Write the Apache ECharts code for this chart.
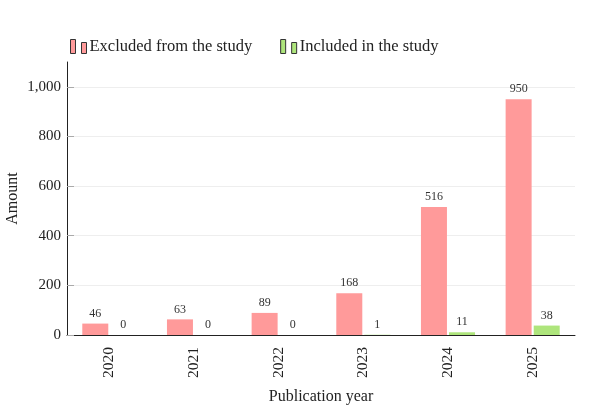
<!DOCTYPE html>
<html><head><meta charset="utf-8">
<script src="https://cdn.jsdelivr.net/npm/echarts@6/dist/echarts.min.js"></script>
<style>html,body{margin:0;padding:0;background:#fff}#c{width:600px;height:410px}</style>
</head><body><div id="c"></div>
<script>
var years = ['2020','2021','2022','2023','2024','2025'];
var excluded = [46, 63, 89, 168, 516, 950];
var included = [0, 0, 0, 1, 11, 38];
var seriesNames = ['Excluded from the study', 'Included in the study'];

var FONT = 'Liberation Serif';
var icon = 'path://M0,0H5V14H0Z M11,3H16V14H11Z';
var chart = echarts.init(document.getElementById('c'), null, {renderer:'canvas'});
chart.setOption({
  animation: false,
  textStyle: {fontFamily: FONT},
  legend: {
    left: 70, top: 38, padding: 0, itemWidth: 16, itemHeight: 14, itemGap: 28,
    icon: icon,
    textStyle: {fontFamily: FONT, fontSize: 16.5, color: '#222', padding: [0,0,0,-2]},
    data: [
      {name: seriesNames[0], itemStyle: {borderColor: '#333', borderWidth: 1}},
      {name: seriesNames[1], itemStyle: {borderColor: '#333', borderWidth: 1}}
    ]
  },
  grid: {left: 67, right: 25, top: 62, bottom: 75, containLabel: false, outerBoundsMode: 'none'},
  xAxis: {
    type: 'category', data: years,
    name: 'Publication year', nameLocation: 'middle', nameGap: 54, nameMoveOverlap: false,
    nameTextStyle: {fontFamily: FONT, fontSize: 16, color: '#222'},
    axisLine: {lineStyle: {color: '#222', width: 1}},
    axisTick: {alignWithLabel: true, length: 5, lineStyle: {color: '#222'}},
    axisLabel: {rotate: 90, fontFamily: FONT, fontSize: 15.5, color: '#222', margin: 12}
  },
  yAxis: {
    type: 'value', min: 0, max: 1100, interval: 200,
    name: 'Amount', nameLocation: 'middle', nameGap: 46, nameMoveOverlap: false,
    nameTextStyle: {fontFamily: FONT, fontSize: 16, color: '#222'},
    axisLine: {show: true, lineStyle: {color: '#222', width: 1}},
    axisTick: {show: true, inside: true, length: 7, lineStyle: {color: '#aaa'}},
    axisLabel: {fontFamily: FONT, fontSize: 15, color: '#222', margin: 6, showMaxLabel: false,
      formatter: function(v){ return v > 1000 ? '' : v.toLocaleString('en-US'); }},
    splitLine: {showMaxLine: false, lineStyle: {color: '#eee', width: 1}}
  },
  series: [
    {name: seriesNames[0], type: 'bar', data: excluded, barWidth: 26, barGap: '8%',
     itemStyle: {color: '#ff9a9a'},
     label: {show: true, position: 'top', fontFamily: FONT, fontSize: 12, color: '#333', distance: 4}},
    {name: seriesNames[1], type: 'bar', data: included, barWidth: 26,
     itemStyle: {color: '#aee57c'},
     label: {show: true, position: 'top', fontFamily: FONT, fontSize: 12, color: '#333', distance: 4}}
  ]
});
</script></body></html>
